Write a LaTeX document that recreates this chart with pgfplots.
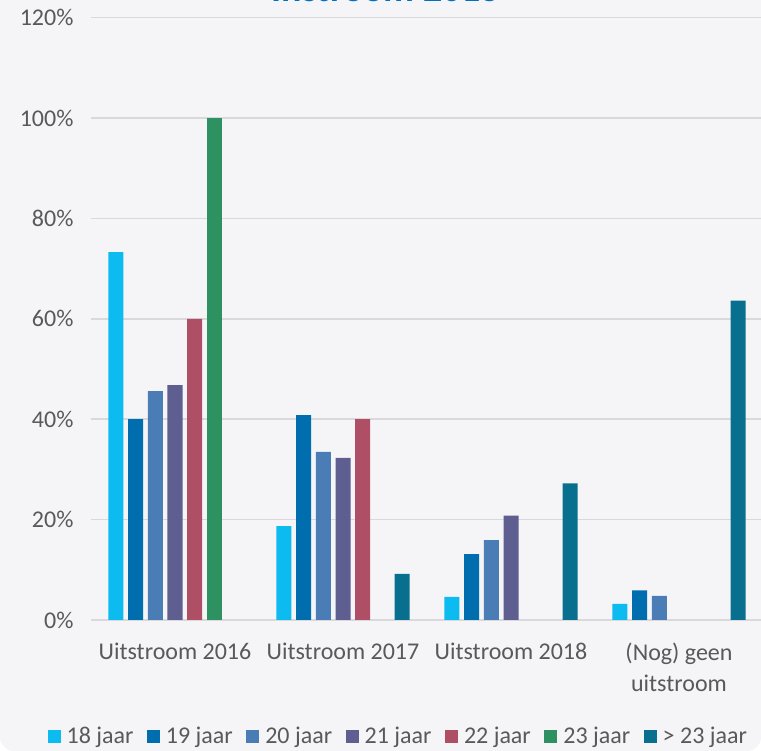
\documentclass[border=0pt]{standalone}
\usepackage{fontspec}
\setmainfont{Carlito}
\usepackage{pgfplots}
\pgfplotsset{compat=1.18}

\definecolor{bg}{RGB}{245,245,247}
\definecolor{txt}{RGB}{89,89,89}
\definecolor{gridc}{RGB}{217,217,220}
\definecolor{titleblue}{RGB}{0,112,192}
\definecolor{c18}{RGB}{12,187,239}
\definecolor{c19}{RGB}{0,110,174}
\definecolor{c20}{RGB}{74,125,181}
\definecolor{c21}{RGB}{94,94,144}
\definecolor{c22}{RGB}{174,79,102}
\definecolor{c23}{RGB}{46,145,98}
\definecolor{c24}{RGB}{8,112,142}

\newcommand{\lbl}{\fontsize{24}{31}\selectfont}

\begin{document}
\begin{tikzpicture}
\clip (0,0) rectangle (761pt,751pt);
\fill[white] (0,0) rectangle (761pt,751pt);
\fill[bg] (761pt,751pt) -- (0,751pt) {[rounded corners=14pt] -- (0,0) -- (761pt,0)} -- cycle;
% title, mostly above the visible area
\node[anchor=base, font=\fontsize{38}{42}\selectfont\bfseries, text=titleblue] at (386pt,749pt) {Instroom 2015};
\begin{axis}[
  at={(91pt,131pt)}, anchor=south west,
  scale only axis,
  width=672pt, height=602.4pt,
  ybar=4.7pt, bar width=15pt,
  xmin=-0.5, xmax=3.5,
  ymin=0, ymax=120,
  xtick={0,1,2,3},
  xticklabels={Uitstroom 2016,Uitstroom 2017,Uitstroom 2018,{(Nog) geen\\uitstroom}},
  ytick={0,20,...,120},
  yticklabel={\pgfmathprintnumber{\tick}\%},
  /pgf/number format/assume math mode=true,
  ymajorgrids,
  grid style={gridc, line width=1.6pt},
  axis line style={draw=none},
  tick style={draw=none},
  xticklabel style={font=\lbl, text=txt, align=center, yshift=-15pt},
  yticklabel style={font=\lbl, text=txt, xshift=-14pt},
  legend style={draw=none, fill=none, font=\lbl, text=txt,
    at={(0.458,-0.1926)}, anchor=center, legend columns=-1,
    /tikz/every odd column/.append style={column sep=3pt},
    /tikz/every even column/.append style={column sep=10.5pt},
    nodes={inner sep=3pt}},
  legend image code/.code={\fill[#1] (0pt,-6.5pt) rectangle (13pt,6.5pt);},
]
\addplot[fill=c18, draw=none] coordinates {(0,73.3) (1,18.7) (2,4.6) (3,3.2)};
\addplot[fill=c19, draw=none] coordinates {(0,40.0) (1,40.8) (2,13.1) (3,5.9)};
\addplot[fill=c20, draw=none] coordinates {(0,45.6) (1,33.5) (2,15.9) (3,4.8)};
\addplot[fill=c21, draw=none] coordinates {(0,46.8) (1,32.3) (2,20.8)};
\addplot[fill=c22, draw=none] coordinates {(0,60.0) (1,40.0)};
\addplot[fill=c23, draw=none] coordinates {(0,100.0)};
\addplot[fill=c24, draw=none] coordinates {(1,9.2) (2,27.2) (3,63.6)};
\legend{18 jaar,19 jaar,20 jaar,21 jaar,22 jaar,23 jaar,> 23 jaar}
\end{axis}
\end{tikzpicture}
\end{document}
